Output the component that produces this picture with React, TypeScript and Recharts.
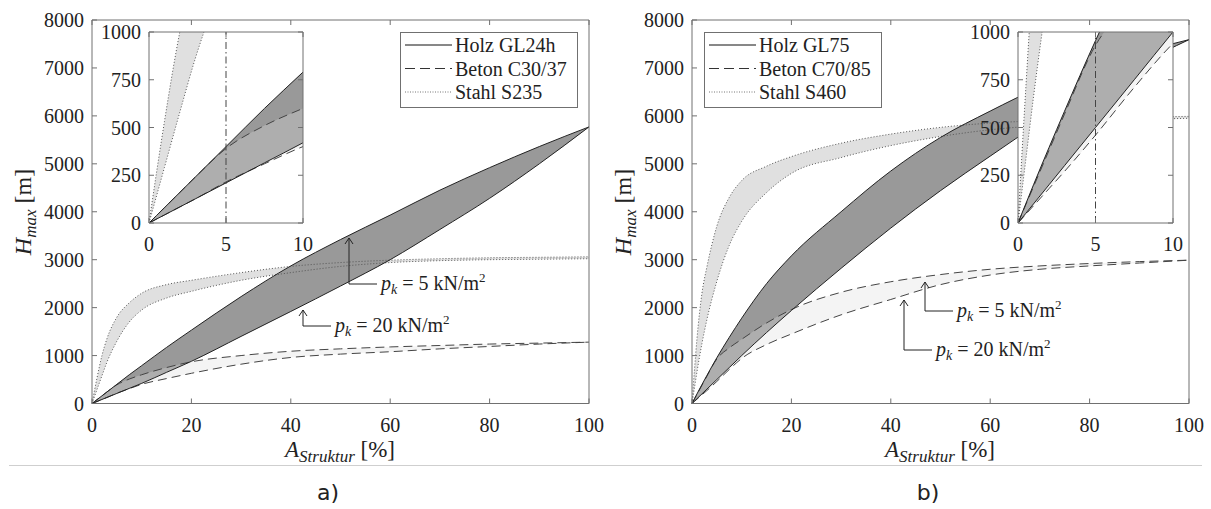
import React from 'react';
import { ComposedChart, Area, Line, XAxis, YAxis, ReferenceLine, ReferenceArea } from 'recharts';

// ---------- data ----------
const xValues = [0, 0.5, 1, 2, 3, 5, 7.5, 10, 15, 20, 30, 40, 50, 60, 70, 80, 90, 100];

// panel a)
const holzA_p5 = [0, 40, 80, 160, 240, 400, 600, 790, 1170, 1530, 2230, 2870, 3420, 3930, 4450, 4920, 5360, 5770];
const holzA_p20 = [0, 21, 42, 84, 126, 210, 315, 420, 650, 880, 1400, 1920, 2450, 3000, 3630, 4280, 5000, 5770];
const betonA_p5 = [0, 40, 80, 160, 240, 390, 510, 600, 750, 870, 1000, 1090, 1140, 1180, 1210, 1240, 1260, 1280];
const betonA_p20 = [0, 21, 42, 84, 126, 215, 310, 400, 520, 630, 820, 960, 1030, 1080, 1140, 1190, 1240, 1280];
const stahlA_p5 = [0, 270, 530, 1000, 1350, 1800, 2100, 2300, 2480, 2570, 2730, 2860, 2940, 2990, 3020, 3040, 3050, 3060];
const stahlA_p20 = [0, 145, 290, 580, 860, 1300, 1700, 1950, 2200, 2340, 2570, 2730, 2860, 2940, 2980, 3000, 3010, 3020];

// panel b)
const holzB_p5 = [0, 100, 200, 395, 585, 955, 1380, 1780, 2500, 3080, 4000, 4850, 5550, 6100, 6600, 7000, 7320, 7590];
const holzB_p20 = [0, 50, 100, 200, 300, 500, 750, 1000, 1480, 1940, 2820, 3660, 4440, 5160, 5860, 6500, 7080, 7590];
const betonB_p5 = [0, 95, 190, 380, 570, 930, 1160, 1340, 1680, 1960, 2320, 2540, 2690, 2800, 2870, 2920, 2960, 2990];
const betonB_p20 = [0, 45, 90, 180, 270, 460, 710, 940, 1230, 1450, 1850, 2170, 2480, 2680, 2800, 2870, 2930, 2990];
const stahlB_p5 = [0, 700, 1350, 2300, 2850, 3700, 4300, 4650, 4950, 5150, 5430, 5620, 5760, 5850, 5900, 5940, 5970, 5990];
const stahlB_p20 = [0, 330, 660, 1250, 1750, 2550, 3300, 3800, 4400, 4800, 5130, 5380, 5570, 5710, 5800, 5870, 5920, 5950];

const mainXTicks = [0, 20, 40, 60, 80, 100];
const mainYTicks = [0, 1000, 2000, 3000, 4000, 5000, 6000, 7000, 8000];
const insetXTicks = [0, 5, 10];
const insetYTicks = [0, 250, 500, 750, 1000];
const legendA = ['Holz GL24h', 'Beton C30/37', 'Stahl S235'];
const legendB = ['Holz GL75', 'Beton C70/85', 'Stahl S460'];
const panelLabels = ['a)', 'b)'];

// ---------- styles ----------
const SERIF = "'Liberation Serif', 'Times New Roman', serif";
const SANS = "'DejaVu Sans', Verdana, sans-serif";
const AX = '#707070';
const TXT = '#222';
const TICK = 5;
const HOLZ_FILL = '#999999';
const STAHL_FILL = '#e0e0e0';
const BETON_FILL = '#dcdcdc';
const DASH = '9 5';
const DOT = '1 2';

type Row = Record<string, any>;

function buildRows(h5: number[], h20: number[], b5: number[], b20: number[], s5: number[], s20: number[]): Row[] {
  return xValues.map((x, i) => ({
    x,
    h5: h5[i], h20: h20[i], b5: b5[i], b20: b20[i], s5: s5[i], s20: s20[i],
    holzBand: [h20[i], h5[i]],
    betonBand: [b20[i], b5[i]],
    stahlBand: [s20[i], s5[i]],
  }));
}

const rowsA = buildRows(holzA_p5, holzA_p20, betonA_p5, betonA_p20, stahlA_p5, stahlA_p20);
const rowsB = buildRows(holzB_p5, holzB_p20, betonB_p5, betonB_p20, stahlB_p5, stahlB_p20);

// ---------- ticks ----------
const bottomTick = (p: any) => (
  <g>
    <line x1={p.x} x2={p.x} y1={p.y} y2={p.y - TICK} stroke={AX} />
    <text x={p.x} y={p.y + 28} textAnchor="middle" fontFamily={SERIF} fontSize={20} fill={TXT}>{p.payload.value}</text>
  </g>
);
const leftTick = (p: any) => (
  <g>
    <line x1={p.x} x2={p.x + TICK} y1={p.y} y2={p.y} stroke={AX} />
    <text x={p.x - 8} y={p.y + 7} textAnchor="end" fontFamily={SERIF} fontSize={20} fill={TXT}>{p.payload.value}</text>
  </g>
);
const topTick = (p: any) => (
  <line x1={p.x} x2={p.x} y1={p.y} y2={p.y + TICK} stroke={AX} />
);
const rightTick = (p: any) => (
  <line x1={p.x} x2={p.x - TICK} y1={p.y} y2={p.y} stroke={AX} />
);

function axes(xDomain: number[], yDomain: number[], xt: number[], yt: number[], overflow: boolean, lw: number) {
  return [
    <XAxis key="xb" dataKey="x" type="number" domain={xDomain} ticks={xt} interval={0} height={30} tickSize={0} tickMargin={0}
      tickLine={false} axisLine={{ stroke: AX }} tick={bottomTick} allowDataOverflow={overflow} />,
    <YAxis key="yl" type="number" domain={yDomain} ticks={yt} interval={0} width={lw} tickSize={0} tickMargin={0}
      tickLine={false} axisLine={{ stroke: AX }} tick={leftTick} allowDataOverflow={overflow} />,
    <XAxis key="xt" xAxisId="top" orientation="top" dataKey="x" type="number" domain={xDomain} ticks={xt} interval={0} height={10} tickSize={0}
      tickMargin={0} tickLine={false} axisLine={{ stroke: AX }} tick={topTick} allowDataOverflow={overflow} />,
    <YAxis key="yr" yAxisId="right" orientation="right" type="number" domain={yDomain} ticks={yt} interval={0} width={10} tickSize={0}
      tickMargin={0} tickLine={false} axisLine={{ stroke: AX }} tick={rightTick} allowDataOverflow={overflow} />,
  ];
}

function series() {
  return [
    <Area key="sa" dataKey="stahlBand" type="monotone" fill={STAHL_FILL} fillOpacity={1} stroke="none" isAnimationActive={false} activeDot={false} />,
    <Area key="ha" dataKey="holzBand" type="monotone" fill={HOLZ_FILL} fillOpacity={1} stroke="none" isAnimationActive={false} activeDot={false} />,
    <Area key="ba" dataKey="betonBand" type="monotone" fill={BETON_FILL} fillOpacity={0.32} stroke="none" isAnimationActive={false} activeDot={false} />,
    <Line key="s5" dataKey="s5" type="monotone" stroke="#555" strokeWidth={1} strokeDasharray={DOT} dot={false} activeDot={false} isAnimationActive={false} />,
    <Line key="s20" dataKey="s20" type="monotone" stroke="#555" strokeWidth={1} strokeDasharray={DOT} dot={false} activeDot={false} isAnimationActive={false} />,
    <Line key="b5" dataKey="b5" type="monotone" stroke="#444" strokeWidth={1} strokeDasharray={DASH} dot={false} activeDot={false} isAnimationActive={false} />,
    <Line key="b20" dataKey="b20" type="monotone" stroke="#444" strokeWidth={1} strokeDasharray={DASH} dot={false} activeDot={false} isAnimationActive={false} />,
    <Line key="h5" dataKey="h5" type="monotone" stroke="#222" strokeWidth={1} dot={false} activeDot={false} isAnimationActive={false} />,
    <Line key="h20" dataKey="h20" type="monotone" stroke="#222" strokeWidth={1} dot={false} activeDot={false} isAnimationActive={false} />,
  ];
}

function MainChart({ rows, left }: { rows: Row[]; left: number }) {
  // plot area: x 92..589, y 20..403.5 (relative to chart)
  return (
    <div style={{ position: 'absolute', left, top: 0, width: 625, height: 470 }}>
      <ComposedChart width={625} height={470} data={rows} margin={{ top: 10, right: 26, bottom: 36.5, left: 32 }}>
        {axes([0, 100], [0, 8000], mainXTicks, mainYTicks, false, 60)}
        {series()}
      </ComposedChart>
    </div>
  );
}

function InsetChart({ rows, left, plotW }: { rows: Row[]; left: number; plotW: number }) {
  const W = 50 + plotW + 15;
  return (
    <div style={{ position: 'absolute', left: left - 50, top: 17, width: W, height: 246 }}>
      <ComposedChart width={W} height={246} data={rows} margin={{ top: 5, right: 5, bottom: 10, left: 10 }}>
        {axes([0, 10], [0, 1000], insetXTicks, insetYTicks, true, 40)}
        <ReferenceArea x1={0} x2={10} y1={0} y2={1000} fill="#ffffff" fillOpacity={1} stroke="none" ifOverflow="hidden" />
        {series()}
        <ReferenceLine x={5} stroke="#444" strokeDasharray="7 3 1.5 3" ifOverflow="hidden" />
      </ComposedChart>
    </div>
  );
}

function Legend({ left, labels }: { left: number; labels: string[] }) {
  const styles = [
    { dash: undefined, color: '#111' },
    { dash: '10 5', color: '#333' },
    { dash: '1 1.5', color: '#777' },
  ];
  return (
    <svg style={{ position: 'absolute', left, top: 32, overflow: 'visible' }} width={178} height={76}>
      <rect x={0.5} y={0.5} width={177} height={75} fill="#fff" stroke={AX} />
      {labels.map((l, i) => (
        <g key={l}>
          <line x1={5} x2={52} y1={13 + i * 23.5} y2={13 + i * 23.5} stroke={styles[i].color} strokeDasharray={styles[i].dash} />
          <text x={55} y={20 + i * 23.5} fontFamily={SERIF} fontSize={20} fill={TXT}>{l}</text>
        </g>
      ))}
    </svg>
  );
}

function Arrow({ tx, ty, ey, ex, label }: { tx: number; ty: number; ey: number; ex: number; label: string }) {
  return (
    <g>
      <polyline points={`${tx},${ty} ${tx},${ey} ${ex},${ey}`} fill="none" stroke="#222" strokeWidth={1} />
      <polyline points={`${tx - 4},${ty + 6} ${tx},${ty} ${tx + 4},${ty + 6}`} fill="none" stroke="#222" strokeWidth={1} />
      <text x={ex + 4} y={ey + 6} fontFamily={SERIF} fontSize={20} fill={TXT}>
        <tspan fontStyle="italic">p</tspan>
        <tspan fontStyle="italic" fontSize={14} dy={4}>k</tspan>
        <tspan dy={-4}>{` = ${label} kN/m`}</tspan>
        <tspan fontSize={13} dy={-8}>2</tspan>
      </text>
    </g>
  );
}

function AxisLabels({ dx }: { dx: number }) {
  return (
    <g>
      <text transform={`translate(${31 + dx},212) rotate(-90)`} textAnchor="middle" fontFamily={SERIF} fontSize={24} fill={TXT}>
        <tspan fontStyle="italic">H</tspan>
        <tspan fontStyle="italic" fontSize={17} dy={5}>max</tspan>
        <tspan dy={-5}>{' [m]'}</tspan>
      </text>
      <text x={340 + dx} y={457} textAnchor="middle" fontFamily={SERIF} fontSize={23} fill={TXT}>
        <tspan fontStyle="italic">A</tspan>
        <tspan fontStyle="italic" fontSize={17} dy={5}>Struktur</tspan>
        <tspan dy={-5}>{' [%]'}</tspan>
      </text>
    </g>
  );
}

export default function App() {
  return (
    <div style={{ position: 'absolute', left: 0, top: 0, width: 1211, height: 509, background: '#fff', overflow: 'hidden' }}>
      <MainChart rows={rowsA} left={0} />
      <MainChart rows={rowsB} left={600} />
      <InsetChart rows={rowsA} left={149} plotW={154} />
      <InsetChart rows={rowsB} left={1018} plotW={155} />
      <Legend left={400} labels={legendA} />
      <Legend left={704} labels={legendB} />
      <svg style={{ position: 'absolute', left: 0, top: 0, pointerEvents: 'none' }} width={1211} height={509}>
        <AxisLabels dx={0} />
        <AxisLabels dx={600} />
        <Arrow tx={349} ty={238} ey={284} ex={377} label="5" />
        <Arrow tx={303} ty={310} ey={326} ex={331} label="20" />
        <Arrow tx={925} ty={282} ey={311} ex={953} label="5" />
        <Arrow tx={904} ty={300} ey={350} ex={932} label="20" />
        <line x1={9} x2={1202} y1={465.5} y2={465.5} stroke="#cfcfcf" strokeWidth={1} />
        <text x={328} y={500} textAnchor="middle" fontFamily={SANS} fontSize={22} fill={TXT}>{panelLabels[0]}</text>
        <text x={928} y={500} textAnchor="middle" fontFamily={SANS} fontSize={22} fill={TXT}>{panelLabels[1]}</text>
      </svg>
    </div>
  );
}
